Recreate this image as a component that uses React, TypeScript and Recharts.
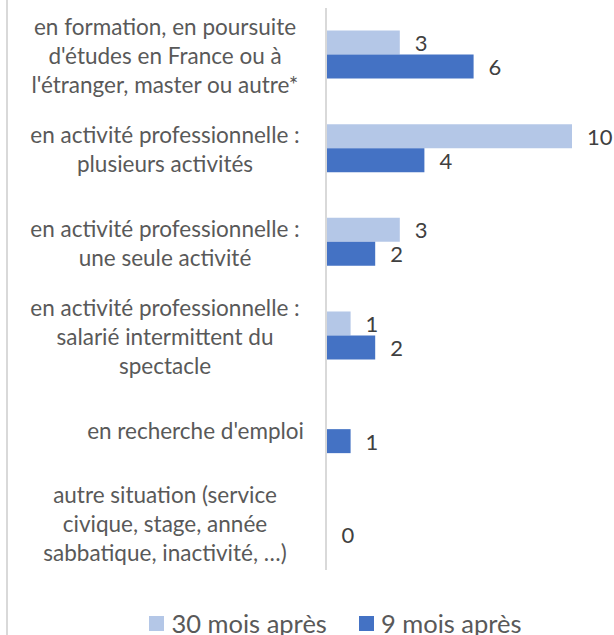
import { Bar, BarChart, LabelList, Legend, XAxis, YAxis } from "recharts"

const FONT = "Lato, 'Noto Sans', sans-serif"

const categories = [
  "en formation, en poursuite\nd'études en France ou à\nl'étranger, master ou autre*",
  "en activité professionnelle :\nplusieurs activités",
  "en activité professionnelle :\nune seule activité",
  "en activité professionnelle :\nsalarié intermittent du\nspectacle",
  "en recherche d'emploi",
  "autre situation (service\ncivique, stage, année\nsabbatique, inactivité, …)",
]
const trenteMois: (number | null)[] = [3, 10, 3, 1, null, null]
const neufMois: (number | null)[] = [6, 4, 2, 2, 1, 0]

const rows = categories.map((label, i) => ({
  label,
  trente: trenteMois[i],
  neuf: neufMois[i],
}))

function CategoryTick({ x, y, payload }: any) {
  const lines = String(payload.value).split("\n")
  const single = lines.length === 1
  const lh = 29
  const tx = single ? x - 22 : x - 161
  return (
    <text
      x={tx}
      y={y}
      textAnchor={single ? "end" : "middle"}
      dominantBaseline="central"
      fill="#595959"
      fontSize={22.5}
      fontFamily={FONT}
    >
      {lines.map((l, i) => (
        <tspan key={i} x={tx} dy={i === 0 ? -((lines.length - 1) / 2) * lh : lh}>
          {l}
        </tspan>
      ))}
    </text>
  )
}

// value labels drawn by hand so that a 0 still gets its label
function ValueLabel(props: any) {
  const { x, y, width, height, value } = props
  if (value == null || value === "") return null
  return (
    <text
      x={Number(x) + Number(width) + 15}
      y={Number(y) + Number(height) / 2}
      dominantBaseline="central"
      fill="#404040"
      fontSize={22}
      fontFamily={FONT}
    >
      {String(value)}
    </text>
  )
}

function LegendContent({ payload }: any) {
  return (
    <div
      style={{
        display: "flex",
        justifyContent: "center",
        gap: 32,
        fontSize: 25.5,
        color: "#595959",
        fontFamily: FONT,
        lineHeight: "30px",
      }}
    >
      {(payload ?? []).map((p: any) => (
        <span key={p.value} style={{ display: "flex", alignItems: "center" }}>
          <span style={{ width: 15, height: 15, background: p.color, marginRight: 7 }} />
          {p.value}
        </span>
      ))}
    </div>
  )
}

// a zero bar gets a hairline so recharts keeps it (and its label)
const keepZero = (v: any) => (v === 0 ? 0.5 : 0)

export default function App() {
  return (
    <div
      style={{
        position: "absolute",
        left: 0,
        top: 0,
        width: 614,
        height: 635,
        background: "#fff",
        overflow: "hidden",
      }}
    >
      <div style={{ position: "absolute", left: 6, top: 0, width: 2, height: 635, background: "#d9d9d9" }} />
      <BarChart
        width={614}
        height={635}
        data={rows}
        layout="vertical"
        margin={{ top: 8, right: 42, bottom: 65, left: 0 }}
        barCategoryGap="24%"
        barGap={0}
      >
        <XAxis type="number" domain={[0, 10]} hide />
        <YAxis
          type="category"
          dataKey="label"
          width={326}
          tickLine={false}
          tickSize={0}
          tickMargin={0}
          axisLine={{ stroke: "#d9d9d9", strokeWidth: 2 }}
          tick={<CategoryTick />}
          interval={0}
        />
        <Legend
          verticalAlign="middle"
          align="center"
          layout="horizontal"
          wrapperStyle={{ top: 608, left: 100, width: 471, bottom: "auto" }}
          content={<LegendContent />}
        />
        <Bar dataKey="trente" name="30 mois après" fill="#b4c7e7" minPointSize={keepZero} isAnimationActive={false}>
          <LabelList dataKey="trente" content={<ValueLabel />} />
        </Bar>
        <Bar dataKey="neuf" name="9 mois après" fill="#4472c4" minPointSize={keepZero} isAnimationActive={false}>
          <LabelList dataKey="neuf" content={<ValueLabel />} />
        </Bar>
      </BarChart>
    </div>
  )
}
